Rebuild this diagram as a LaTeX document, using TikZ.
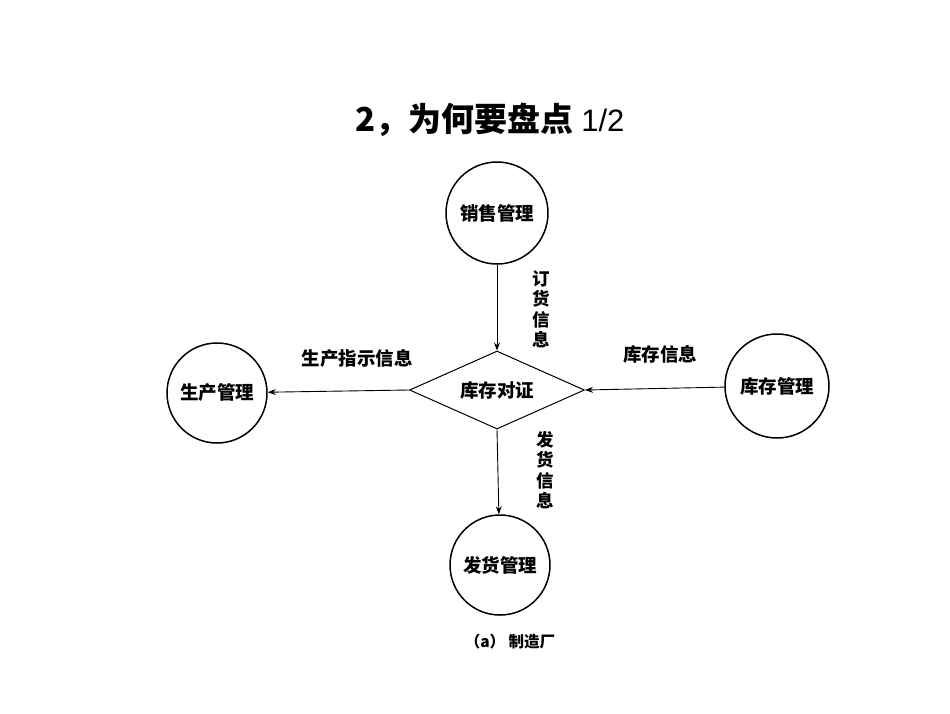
\documentclass[tikz,border=0pt]{standalone}
\usepackage{fontspec}
\setmainfont{Liberation Sans}
\newfontfamily\cjk{Noto Sans CJK SC}
\usetikzlibrary{shapes.geometric,arrows.meta}
\begin{document}
\begin{tikzpicture}[x=1pt,y=-1pt,
  circ/.style={circle,draw,line width=1.5pt,minimum size=102pt,inner sep=0pt,font=\cjk\bfseries\fontsize{18.5}{18.5}\selectfont},
  lbl/.style={font=\cjk\bfseries\fontsize{18.5}{18.5}\selectfont},
  vlbl/.style={align=center,font=\cjk\bfseries\fontsize{17.5}{20.5}\selectfont},
  arr/.style={-{Stealth[length=8pt,width=6pt]},line width=0.9pt}]
\useasboundingbox (0,0) rectangle (950,713);
\node (title) at (490,120) {\cjk\bfseries\fontsize{33}{33}\selectfont 2，为何要盘点 \normalfont\fontsize{31}{31}\selectfont 1/2};
\node[circ] (sales) at (497,213) {销售管理};
\node[circ,minimum size=100pt] (prod) at (217,393) {生产管理};
\node[circ,minimum size=104pt] (inv) at (777,386) {库存管理};
\node[circ,minimum size=100pt] (ship) at (500,565) {发货管理};
\node[diamond,draw,line width=1pt,aspect=2.25,minimum width=175pt,minimum height=78pt,inner sep=0pt,lbl] (d) at (497,390) {库存对证};
\draw[arr] (sales) -- (d.north);
\draw[arr] (d.west) -- (prod);
\draw[arr] (inv) -- (d.east);
\draw[arr] (d.south) -- (ship);
\node[vlbl] (l1) at (541,309) {订\\货\\信\\息};
\node[vlbl] (l2) at (545,470) {发\\货\\信\\息};
\node[lbl] (l3) at (357,358) {生产指示信息};
\node[lbl] (l4) at (660,354) {库存信息};
\node[font=\cjk\bfseries\fontsize{15.5}{15.5}\selectfont] (cap) at (510,642) {（a） 制造厂};
\end{tikzpicture}
\end{document}
